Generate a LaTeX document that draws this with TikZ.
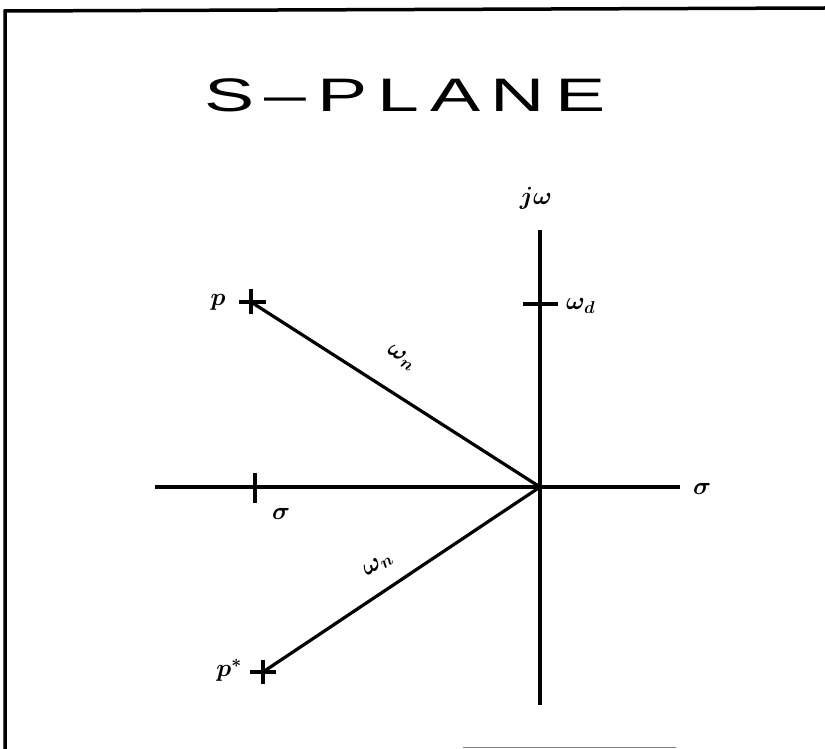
\documentclass[tikz,border=0pt]{standalone}
\usepackage{fontspec}
\usepackage{bm}
\newfontfamily\titlefont[LetterSpace=14]{Liberation Sans}
\tikzset{
  frameline/.style={line width=3.5pt, line cap=rect},
  axisline/.style={line width=3.2pt},
  vecline/.style={line width=3.2pt},
  tick/.style={line width=3.2pt},
  lbl/.style={inner sep=0pt, font=\fontsize{27}{29}\selectfont},
}
\begin{document}
\begin{tikzpicture}[x=1pt,y=-1pt]
\useasboundingbox (0,0) rectangle (825,749);
% frame
\coordinate (FTL) at (5,11);
\coordinate (FTR) at (825,8);
\coordinate (FBL) at (5,749);
\draw[frameline] (FBL) -- (FTL) -- (FTR);
\coordinate (BL1) at (463,747.5);
\coordinate (BL2) at (676,747.5);
\draw[line width=1pt, gray] (BL1) -- (BL2);
% title
\node[anchor=base west, inner sep=0pt, xscale=1.6] (title) at (204,112)
  {\titlefont\fontsize{47}{50}\selectfont S–PLANE};
% axes
\coordinate (O) at (540,487);
\coordinate (Vtop) at (540,230);
\coordinate (Vbot) at (540,705);
\coordinate (Hl) at (155,487);
\coordinate (Hr) at (680,487);
\draw[axisline] (Vtop) -- (Vbot);
\draw[axisline] (Hl) -- (Hr);
% axis labels
\node[lbl] (jw) at (536,198) {$\bm{j\omega}$};
\node[lbl] (sigr) at (702,489) {$\bm{\sigma}$};
% omega_d tick
\coordinate (wd1) at (523,304);
\coordinate (wd2) at (558,304);
\draw[tick] (wd1) -- (wd2);
\node[lbl, anchor=west] (wd) at (566,306) {$\bm{\omega_{d}}$};
% sigma tick
\coordinate (s1) at (255,473);
\coordinate (s2) at (255,503);
\draw[tick] (s1) -- (s2);
\node[lbl] (sigl) at (281,514) {$\bm{\sigma}$};
% pole p
\coordinate (P) at (251,302);
\draw[tick] ([xshift=-12pt]P) -- ([xshift=15pt]P);
\draw[tick] ([yshift=-12pt]P) -- ([yshift=13pt]P);
\node[lbl] (plbl) at (218,302) {$\bm{p}$};
% pole p*
\coordinate (Ps) at (263,672);
\draw[tick] ([xshift=-13pt]Ps) -- ([xshift=13pt]Ps);
\draw[tick] ([yshift=-12pt]Ps) -- ([yshift=12pt]Ps);
\node[lbl] (pslbl) at (229,670) {$\bm{p^{*}}$};
% vectors
\draw[vecline] (P) -- (O);
\draw[vecline] (Ps) -- (O);
\node[lbl, rotate=-33] (wn1) at (401,358) {$\bm{\omega_{n}}$};
\node[lbl, rotate=33] (wn2) at (378,565) {$\bm{\omega_{n}}$};
\end{tikzpicture}
\end{document}
